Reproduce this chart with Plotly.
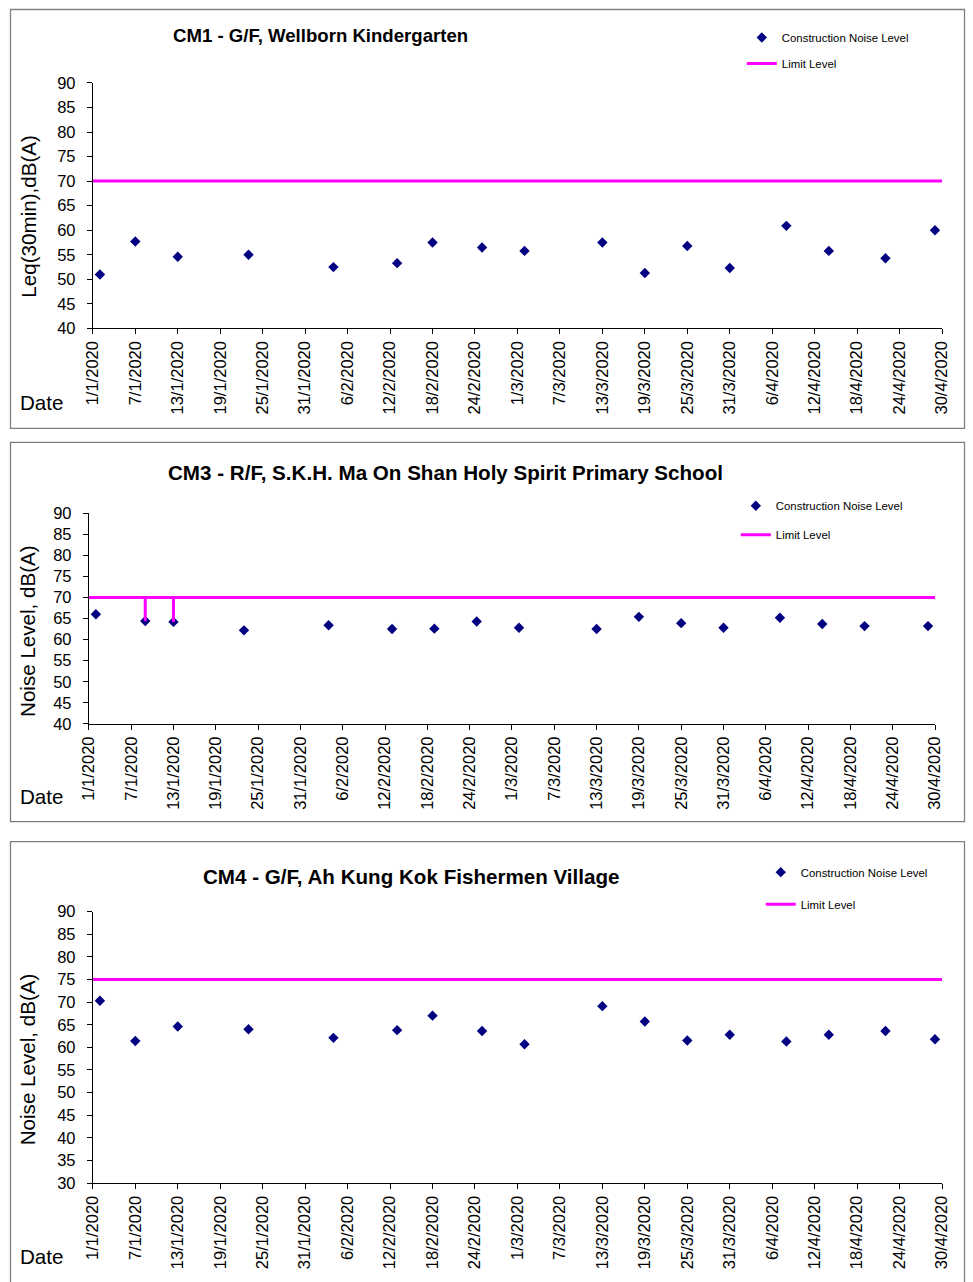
import plotly.graph_objects as go

W, H = 973, 1282

# ---------------- data ----------------
tick_dates = ['2020-01-01', '2020-01-07', '2020-01-13', '2020-01-19', '2020-01-25', '2020-01-31',
              '2020-02-06', '2020-02-12', '2020-02-18', '2020-02-24', '2020-03-01', '2020-03-07',
              '2020-03-13', '2020-03-19', '2020-03-25', '2020-03-31', '2020-04-06', '2020-04-12',
              '2020-04-18', '2020-04-24', '2020-04-30']
tick_labels = ['1/1/2020', '7/1/2020', '13/1/2020', '19/1/2020', '25/1/2020', '31/1/2020',
               '6/2/2020', '12/2/2020', '18/2/2020', '24/2/2020', '1/3/2020', '7/3/2020',
               '13/3/2020', '19/3/2020', '25/3/2020', '31/3/2020', '6/4/2020', '12/4/2020',
               '18/4/2020', '24/4/2020', '30/4/2020']

cm1_dates = ['2020-01-02', '2020-01-07', '2020-01-13', '2020-01-23', '2020-02-04', '2020-02-13',
             '2020-02-18', '2020-02-25', '2020-03-02', '2020-03-13', '2020-03-19', '2020-03-25',
             '2020-03-31', '2020-04-08', '2020-04-14', '2020-04-22', '2020-04-29']
cm1_values = [51.0, 57.7, 54.6, 55.0, 52.5, 53.3, 57.5, 56.5, 55.8, 57.5, 51.3, 56.8,
              52.3, 60.9, 55.8, 54.3, 60.0]
cm1_limit_dates = ['2020-01-01', '2020-04-30']
cm1_limit_values = [70, 70]

cm3_dates = ['2020-01-02', '2020-01-09', '2020-01-13', '2020-01-23', '2020-02-04', '2020-02-13',
             '2020-02-19', '2020-02-25', '2020-03-02', '2020-03-13', '2020-03-19', '2020-03-25',
             '2020-03-31', '2020-04-08', '2020-04-14', '2020-04-20', '2020-04-29']
cm3_values = [66.0, 64.4, 64.2, 62.2, 63.4, 62.5, 62.6, 64.3, 62.8, 62.5, 65.4, 63.9,
              62.8, 65.2, 63.7, 63.2, 63.2]
cm3_limit_dates = ['2020-01-01', '2020-01-09', '2020-01-09', '2020-01-09', '2020-01-13',
                   '2020-01-13', '2020-01-13', '2020-04-30']
cm3_limit_values = [70, 70, 64.4, 70, 70, 64.2, 70, 70]

cm4_dates = ['2020-01-02', '2020-01-07', '2020-01-13', '2020-01-23', '2020-02-04', '2020-02-13',
             '2020-02-18', '2020-02-25', '2020-03-02', '2020-03-13', '2020-03-19', '2020-03-25',
             '2020-03-31', '2020-04-08', '2020-04-14', '2020-04-22', '2020-04-29']
cm4_values = [70.3, 61.4, 64.6, 64.0, 62.1, 63.8, 67.0, 63.6, 60.7, 69.1, 65.7, 61.5,
              62.8, 61.3, 62.8, 63.6, 61.8]
cm4_limit_dates = ['2020-01-01', '2020-04-30']
cm4_limit_values = [75, 75]

titles = ['CM1 - G/F, Wellborn Kindergarten',
          'CM3 - R/F, S.K.H. Ma On Shan Holy Spirit Primary School',
          'CM4 - G/F, Ah Kung Kok Fishermen Village']
ytitles = ['Leq(30min),dB(A)', 'Noise Level, dB(A)', 'Noise Level, dB(A)']
series_name = 'Construction Noise Level'
limit_name = 'Limit Level'

# ---------------- layout helpers ----------------
FONT = 'Arial, "Liberation Sans", sans-serif'
NAVY = '#000080'
MAGENTA = '#FF00FF'

# the photographed page is framed with an 8px pad; map target pixels to page pixels
PAD = 8
SX = (W - 2 * PAD) / W
SY = (H - 2 * PAD) / H


def page_x(X):
    return (X - PAD) / SX


def page_y(Y):
    return (Y - PAD) / SY


def px(X):
    return page_x(X) / W


def py(Y):
    return 1 - page_y(Y) / H


def clampx(v):
    return min(max(v, 0.5 / W), 1 - 0.5 / W)


def clampy(v):
    return min(max(v, 0.5 / H), 1 - 0.5 / H)


panels = [
    dict(x0=91, x1=942, ytop=82, ybot=328, yr=[40, 90], border=(4, 4, 968, 428),
         title=(319, 35), tsize=18.6, ytitle=(27, 215), date=(16, 402), marker=(761, 36), gap=7),
    dict(x0=87, x1=935, ytop=513, ybot=724, yr=[40, 90], border=(4, 442, 968, 822),
         title=(444, 472), tsize=20.6, ytitle=(25, 631), date=(16, 797), marker=(755, 505), gap=10),
    dict(x0=91, x1=942, ytop=912, ybot=1184, yr=[30, 90], border=(4, 842, 968, 1300),
         title=(410, 877), tsize=20.6, ytitle=(25, 1060), date=(16, 1257), marker=(780, 872), gap=13),
]

data_sets = [
    (cm1_dates, cm1_values, cm1_limit_dates, cm1_limit_values),
    (cm3_dates, cm3_values, cm3_limit_dates, cm3_limit_values),
    (cm4_dates, cm4_values, cm4_limit_dates, cm4_limit_values),
]

fig = go.Figure()
layout = dict(width=W, height=H, margin=dict(l=0, r=0, t=0, b=0),
              paper_bgcolor='white', plot_bgcolor='white',
              font=dict(family=FONT, color='black'), showlegend=True)
shapes = []
annotations = []

for i, (p, ds) in enumerate(zip(panels, data_sets)):
    n = '' if i == 0 else str(i + 1)
    xa, ya = 'x' + n, 'y' + n
    lg = 'legend' if i == 0 else 'legend' + str(i + 1)
    d, v, ld, lv = ds
    fig.add_trace(go.Scatter(x=d, y=v, mode='markers', name=series_name,
                             marker=dict(symbol='diamond', size=8, color=NAVY),
                             xaxis=xa, yaxis=ya, legend=lg, legendgroup='a' + n))
    fig.add_trace(go.Scatter(x=ld, y=lv, mode='lines', name=limit_name,
                             line=dict(color=MAGENTA, width=3),
                             xaxis=xa, yaxis=ya, legend=lg, legendgroup='b' + n))

    layout['xaxis' + n] = dict(
        domain=[px(p['x0']), px(p['x1'])], anchor=ya, type='date',
        range=['2020-01-01', '2020-04-30'], tickmode='array',
        tickvals=tick_dates, ticktext=tick_labels, tickangle=-90,
        ticks='outside', ticklen=5, tickcolor='black', showline=True,
        linecolor='black', linewidth=1, showgrid=False, zeroline=False,
        tickfont=dict(size=16.5, family=FONT, color='black'), ticklabelstandoff=0)
    layout['yaxis' + n] = dict(
        domain=[py(p['ybot']), py(p['ytop'])], anchor=xa, range=p['yr'],
        dtick=5, ticks='outside', ticklen=5, tickcolor='black', showline=True,
        linecolor='black', linewidth=1, showgrid=False, zeroline=False,
        tickfont=dict(size=16.5, family=FONT, color='black'), ticklabelstandoff=8)
    mx, my = p['marker']
    lx = (page_x(mx) - 20) / W
    ly = 1 - (page_y(my) - 14.2) / H
    layout[lg] = dict(x=lx, y=ly, xanchor='left', yanchor='top',
                      bgcolor='rgba(0,0,0,0)', font=dict(size=11.4, family=FONT, color='black'),
                      tracegroupgap=p['gap'], traceorder='grouped')

    bx0, by0, bx1, by1 = p['border']
    shapes.append(dict(type='rect', xref='paper', yref='paper',
                       x0=clampx(px(bx0)), x1=clampx(px(bx1)),
                       y0=py(by1), y1=clampy(py(by0)),
                       line=dict(color='#7f7f7f', width=1.3), fillcolor='rgba(0,0,0,0)'))
    annotations.append(dict(text='<b>' + titles[i] + '</b>', xref='paper', yref='paper',
                            x=px(p['title'][0]), y=py(p['title'][1]), xanchor='center',
                            yanchor='middle', showarrow=False,
                            font=dict(size=p['tsize'], family=FONT, color='black')))
    annotations.append(dict(text=ytitles[i], xref='paper', yref='paper',
                            x=px(p['ytitle'][0]), y=py(p['ytitle'][1]), xanchor='center',
                            yanchor='middle', showarrow=False, textangle=-90,
                            font=dict(size=20.6, family=FONT, color='black')))
    annotations.append(dict(text='Date', xref='paper', yref='paper',
                            x=px(p['date'][0]), y=py(p['date'][1]), xanchor='left',
                            yanchor='middle', showarrow=False,
                            font=dict(size=20.6, family=FONT, color='black')))

layout['shapes'] = shapes
layout['annotations'] = annotations
fig.update_layout(**layout)

fig.write_html('out.html', config={'displayModeBar': False},
               post_script="document.body.style.margin='0';document.body.style.overflow='hidden';")
